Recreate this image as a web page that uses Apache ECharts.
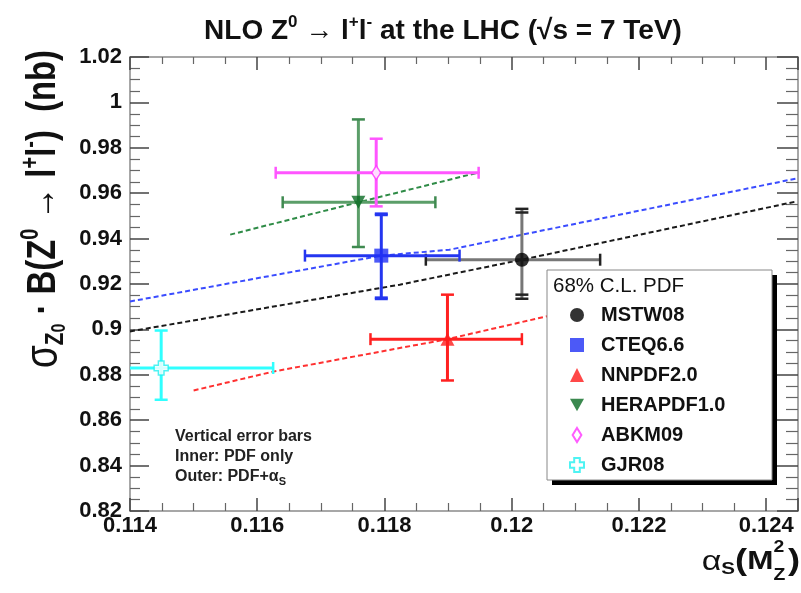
<!DOCTYPE html>
<html>
<head>
<meta charset="utf-8">
<script src="https://cdn.jsdelivr.net/npm/echarts@6/dist/echarts.min.js"></script>
<style>
html,body{margin:0;padding:0;background:#fff;}
#chart{width:801px;height:593px;}
</style>
</head>
<body>
<div id="chart"></div>
<script>
// ---- data ----
const pdfNames = ['MSTW08', 'CTEQ6.6', 'NNPDF2.0', 'HERAPDF1.0', 'ABKM09', 'GJR08'];
const alphaS      = [0.12016, 0.11795, 0.11899, 0.11759, 0.11787, 0.11449];
const sigma       = [0.9307, 0.9325, 0.8957, 0.9560, 0.9690, 0.8830];
const alphaLo     = [0.11865, 0.11675, 0.11778, 0.11640, 0.11629, 0.11273];
const alphaHi     = [0.12139, 0.11918, 0.12016, 0.11880, 0.11948, 0.11625];
const sigmaOutLo  = [0.9135, 0.9134, 0.8775, 0.9363, 0.9542, 0.8690];
const sigmaOutHi  = [0.9531, 0.9510, 0.9153, 0.9925, 0.9840, 0.8995];
const sigmaInLo   = [0.9153, 0.9140, 0.8775, 0.9363, 0.9542, 0.8690];
const sigmaInHi   = [0.9515, 0.9504, 0.9153, 0.9925, 0.9840, 0.8995];

// alpha_s dependence (dashed lines)
const mstwLineX = [0.1140, 0.11824, 0.12016, 0.12448];
const mstwLineY = [0.8991, 0.9197, 0.9307, 0.9564];
const cteqLineX = [0.1140, 0.11795, 0.11902, 0.12016, 0.12448];
const cteqLineY = [0.9123, 0.9325, 0.9351, 0.9417, 0.9665];
const nnpdfLineX = [0.1150, 0.11625, 0.11899, 0.12054, 0.1230];
const nnpdfLineY = [0.8731, 0.8814, 0.8957, 0.9057, 0.9200];
const heraLineX = [0.115575, 0.11759, 0.119494];
const heraLineY = [0.94175, 0.9560, 0.96923];

// axes
const xMin = 0.114, xMax = 0.1245, xStep = 0.002;
const yMin = 0.82, yMax = 1.02, yStep = 0.02;
const xTickValues = [0.114, 0.116, 0.118, 0.120, 0.122, 0.124];
const xTickLabels = ['0.114', '0.116', '0.118', '0.12', '0.122', '0.124'];
const yTickValues = [0.82, 0.84, 0.86, 0.88, 0.90, 0.92, 0.94, 0.96, 0.98, 1.00, 1.02];
const yTickLabels = ['0.82', '0.84', '0.86', '0.88', '0.9', '0.92', '0.94', '0.96', '0.98', '1', '1.02'];

// ---- styles ----
const FONT = '"Liberation Sans", Arial, Helvetica, sans-serif';
const barColors  = ['#777777', '#2436f0', '#ff2020', '#5b9e69', '#ff55ff', '#30ffff'];
const capColors  = ['#222222', '#2436f0', '#ff2020', '#3f8a50', '#ff55ff', '#30ffff'];
const markerStyles = [
  {symbol: 'circle', size: 14, itemStyle: {color: '#000'}},
  {symbol: 'rect', size: 14, itemStyle: {color: '#1f2ff5'}},
  {symbol: 'triangle', size: [14, 13], itemStyle: {color: '#ff1a1a'}},
  {symbol: 'path://M0,0 L10,0 L5,9 Z', size: [14, 13], itemStyle: {color: '#0a6b23'}},
  {symbol: 'path://M5,0 L10,8 L5,16 L0,8 Z', size: [9, 14], itemStyle: {color: '#fff', borderColor: '#ff33ff', borderWidth: 1.5}},
  {symbol: 'path://M3,0 L7,0 L7,3 L10,3 L10,7 L7,7 L7,10 L3,10 L3,7 L0,7 L0,3 L3,3 Z', size: 14, itemStyle: {color: '#fff', borderColor: '#22f0f0', borderWidth: 1.5}}
];

function lookupLabel(values, labels) {
  return function (v) {
    for (let i = 0; i < values.length; i++) {
      if (Math.abs(values[i] - v) < 1e-9) return labels[i];
    }
    return '';
  };
}

function errorBars(color, capColor) {
  return function (params, api) {
    const x = api.value(0), y = api.value(1);
    const xlo = api.value(2), xhi = api.value(3);
    const ylo = api.value(4), yhi = api.value(5);
    const ylo2 = api.value(6), yhi2 = api.value(7);
    const pL = api.coord([xlo, y]), pR = api.coord([xhi, y]);
    const pB = api.coord([x, ylo]), pT = api.coord([x, yhi]);
    const pB2 = api.coord([x, ylo2]), pT2 = api.coord([x, yhi2]);
    const st = {stroke: color, lineWidth: 3};
    const cs = {stroke: capColor, lineWidth: 2.5};
    const ch = [
      {type: 'line', shape: {x1: pL[0], y1: pL[1], x2: pR[0], y2: pR[1]}, style: st},
      {type: 'line', shape: {x1: pB[0], y1: pB[1], x2: pT[0], y2: pT[1]}, style: st},
      {type: 'line', shape: {x1: pL[0], y1: pL[1] - 6, x2: pL[0], y2: pL[1] + 6}, style: cs},
      {type: 'line', shape: {x1: pR[0], y1: pR[1] - 6, x2: pR[0], y2: pR[1] + 6}, style: cs},
      {type: 'line', shape: {x1: pB[0] - 6.5, y1: pB[1], x2: pB[0] + 6.5, y2: pB[1]}, style: cs},
      {type: 'line', shape: {x1: pT[0] - 6.5, y1: pT[1], x2: pT[0] + 6.5, y2: pT[1]}, style: cs}
    ];
    if (Math.abs(ylo2 - ylo) > 1e-6) ch.push({type: 'line', shape: {x1: pB2[0] - 6.5, y1: pB2[1], x2: pB2[0] + 6.5, y2: pB2[1]}, style: cs});
    if (Math.abs(yhi2 - yhi) > 1e-6) ch.push({type: 'line', shape: {x1: pT2[0] - 6.5, y1: pT2[1], x2: pT2[0] + 6.5, y2: pT2[1]}, style: cs});
    return {type: 'group', children: ch};
  };
}

function zipXY(xs, ys) { return xs.map((x, i) => [x, ys[i]]); }

const series = [];
// dashed alpha_s lines
const lineDefs = [
  [mstwLineX, mstwLineY, '#1a1a1a'],
  [cteqLineX, cteqLineY, '#3a4cff'],
  [nnpdfLineX, nnpdfLineY, '#ff3030'],
  [heraLineX, heraLineY, '#2e8b46']
];
lineDefs.forEach(d => {
  series.push({
    type: 'line', data: zipXY(d[0], d[1]), symbol: 'none', silent: true, z: 1,
    lineStyle: {color: d[2], width: 2, type: [5, 3]}, animation: false
  });
});
// error bars
pdfNames.forEach((n, i) => {
  series.push({
    type: 'custom', clip: true, z: 2, silent: true, animation: false,
    renderItem: errorBars(barColors[i], capColors[i]),
    data: [[alphaS[i], sigma[i], alphaLo[i], alphaHi[i], sigmaOutLo[i], sigmaOutHi[i], sigmaInLo[i], sigmaInHi[i]]]
  });
});
// markers
pdfNames.forEach((n, i) => {
  const m = markerStyles[i];
  series.push({
    type: 'scatter', name: n, z: 3, animation: false,
    symbol: m.symbol, symbolSize: m.size, itemStyle: m.itemStyle,
    data: [[alphaS[i], sigma[i]]]
  });
});

const axisLineStyle = {color: '#8a8a8a', width: 1.5};
const tickStyle = {color: '#444', width: 1.5};
const minorStyle = {color: '#666', width: 1.2};

const option = {
  animation: false,
  backgroundColor: '#fff',
  grid: {left: 130, right: 3, top: 57, bottom: 82},
  xAxis: [
    {type: 'value', min: xMin, max: xMax, interval: xStep, position: 'bottom',
      axisLine: {onZero: false, lineStyle: axisLineStyle},
      axisTick: {inside: true, length: 13, lineStyle: tickStyle},
      minorTick: {show: true, splitNumber: 4, length: 8, lineStyle: minorStyle},
      axisLabel: {margin: 4, fontSize: 22, fontWeight: 'bold', color: '#111', fontFamily: FONT,
        formatter: lookupLabel(xTickValues, xTickLabels)},
      splitLine: {show: false}},
    {type: 'value', min: xMin, max: xMax, interval: xStep, position: 'top',
      axisLine: {onZero: false, lineStyle: axisLineStyle},
      axisTick: {inside: true, length: 13, lineStyle: tickStyle},
      minorTick: {show: true, splitNumber: 4, length: 7, lineStyle: minorStyle},
      axisLabel: {show: false}, splitLine: {show: false}}
  ],
  yAxis: [
    {type: 'value', min: yMin, max: yMax, interval: yStep, position: 'left',
      axisLine: {onZero: false, lineStyle: axisLineStyle},
      axisTick: {inside: true, length: 19, lineStyle: tickStyle},
      minorTick: {show: true, splitNumber: 4, length: 10, lineStyle: minorStyle},
      axisLabel: {margin: 8, fontSize: 22, fontWeight: 'bold', color: '#111', fontFamily: FONT,
        formatter: lookupLabel(yTickValues, yTickLabels)},
      splitLine: {show: false}},
    {type: 'value', min: yMin, max: yMax, interval: yStep, position: 'right',
      axisLine: {onZero: false, lineStyle: axisLineStyle},
      axisTick: {inside: true, length: 21, lineStyle: tickStyle},
      minorTick: {show: true, splitNumber: 4, length: 12, lineStyle: minorStyle},
      axisLabel: {show: false}, splitLine: {show: false}}
  ],
  legend: {
    data: pdfNames, orient: 'vertical', left: 569, top: 305, z: 20,
    itemWidth: 14, itemHeight: 14, itemGap: 10, selectedMode: false,
    padding: 0,
    textStyle: {fontSize: 20, fontWeight: 'bold', color: '#111', fontFamily: FONT, lineHeight: 20, padding: [0, 0, 0, 12]}
  },
  graphic: [
    {type: 'rect', z: 10, shape: {x: 552, y: 275, width: 225, height: 210}, style: {fill: '#000'}},
    {type: 'rect', z: 11, shape: {x: 547, y: 270, width: 225, height: 210}, style: {fill: '#fff', stroke: '#888', lineWidth: 1}},
    {type: 'text', z: 12, x: 553, y: 286,
      style: {text: '68% C.L. PDF', fontSize: 20.5, fontFamily: FONT, fill: '#111', verticalAlign: 'middle'}},
    // title
    {type: 'text', z: 12, x: 443, y: 31,
      style: {
        text: '{b|NLO Z}{sup|0}{b| → l}{sup|+}{b|l}{sup|-}{b| at the LHC (√s = 7 TeV)}',
        align: 'center', verticalAlign: 'middle',
        rich: {
          b: {fontSize: 28, fontWeight: 'bold', fontFamily: FONT, fill: '#111', lineHeight: 34, verticalAlign: 'middle'},
          sup: {fontSize: 17, fontWeight: 'bold', fontFamily: FONT, fill: '#111', lineHeight: 16, verticalAlign: 'top'}
        }
      }},
    // y title
    {type: 'text', z: 12, x: 44, y: 50, rotation: Math.PI / 2, scaleX: 0.8,
      style: {
        text: '{g|σ}{sub|Z}{ss|0}{a| · B(Z}{sup|0}{a| → l}{sup|+}{a|l}{sup|-}{a|)  (nb)}',
        align: 'right', verticalAlign: 'middle',
        rich: {
          g: {fontSize: 46, fontFamily: FONT, fill: '#111', lineHeight: 50, verticalAlign: 'middle'},
          a: {fontSize: 41, fontWeight: 'bold', fontFamily: FONT, fill: '#111', lineHeight: 50, verticalAlign: 'middle'},
          sub: {fontSize: 26, fontWeight: 'bold', fontFamily: FONT, fill: '#111', lineHeight: 24, verticalAlign: 'bottom'},
          ss: {fontSize: 20, fontWeight: 'bold', fontFamily: FONT, fill: '#111', lineHeight: 40, verticalAlign: 'bottom'},
          sup: {fontSize: 25, fontWeight: 'bold', fontFamily: FONT, fill: '#111', lineHeight: 22, verticalAlign: 'top'}
        }
      }},
    // x title
    {type: 'group', x: 800, y: 562, scaleX: 1.21, children: [
      {type: 'text', z: 12, x: -22, y: 0,
        style: {
          text: '{a|α}{s|S}{p|(}{m|M}', align: 'right', verticalAlign: 'middle',
          rich: {
            a: {fontSize: 28, fontFamily: FONT, fill: '#111', lineHeight: 32, verticalAlign: 'middle'},
            s: {fontSize: 17, fontWeight: 'bold', fontFamily: FONT, fill: '#111', lineHeight: 14, verticalAlign: 'bottom'},
            p: {fontSize: 30, fontWeight: 'bold', fontFamily: FONT, fill: '#111', lineHeight: 32, verticalAlign: 'middle'},
            m: {fontSize: 26, fontWeight: 'bold', fontFamily: FONT, fill: '#111', lineHeight: 32, verticalAlign: 'middle'}
          }
        }},
      {type: 'text', z: 12, x: -22, y: -14, style: {text: '2', fontSize: 16, fontWeight: 'bold', fontFamily: FONT, fill: '#111', verticalAlign: 'middle'}},
      {type: 'text', z: 12, x: -22, y: 14, style: {text: 'Z', fontSize: 16, fontWeight: 'bold', fontFamily: FONT, fill: '#111', verticalAlign: 'middle'}},
      {type: 'text', z: 12, x: -10, y: 0, style: {text: ')', fontSize: 30, fontWeight: 'bold', fontFamily: FONT, fill: '#111', verticalAlign: 'middle'}}
    ]},
    // annotation
    {type: 'text', z: 12, x: 175, y: 427,
      style: {
        text: '{t|Vertical error bars}\n{t|Inner: PDF only}\n{t|Outer: PDF+α}{s|S}',
        align: 'left', verticalAlign: 'top',
        rich: {
          t: {fontSize: 16, fontWeight: 'bold', fontFamily: FONT, fill: '#222', lineHeight: 20, verticalAlign: 'middle'},
          s: {fontSize: 11, fontWeight: 'bold', fontFamily: FONT, fill: '#222', lineHeight: 12, verticalAlign: 'bottom'}
        }
      }}
  ],
  series: series
};

const chart = echarts.init(document.getElementById('chart'), null, {renderer: 'canvas'});
chart.setOption(option);
</script>
</body>
</html>
